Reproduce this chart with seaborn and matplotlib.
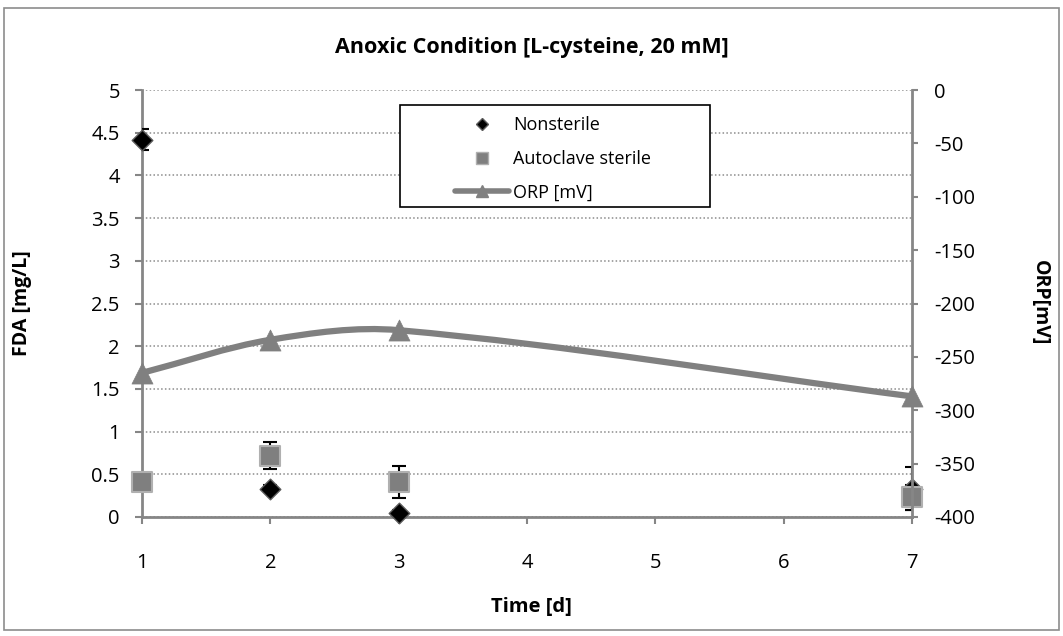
import numpy as np
import pandas as pd
import matplotlib
matplotlib.use("Agg")
import matplotlib.pyplot as plt
from matplotlib.path import Path
from matplotlib.patches import PathPatch, Rectangle
from matplotlib.lines import Line2D
import seaborn as sns

# ---- data ----
days = [1, 2, 3, 7]
nonsterile = [4.42, 0.33, 0.05, 0.33]
nonsterile_err = [0.12, 0.04, 0.03, 0.25]
autoclave = [0.41, 0.72, 0.41, 0.23]
autoclave_err = [0.0, 0.16, 0.19, 0.15]
orp = [-265, -234, -225, -287]

sns.set_theme(style="white")
plt.rcParams["font.family"] = ["Open Sans", "DejaVu Sans"]
plt.rcParams["axes.unicode_minus"] = False
plt.rcParams["text.color"] = "black"
plt.rcParams["xtick.labelcolor"] = "black"
plt.rcParams["ytick.labelcolor"] = "black"

fig = plt.figure(figsize=(10.63, 6.36), dpi=100)
fig.patch.set_facecolor("white")
fig.patches.append(Rectangle((4 / 1063, 6 / 636), 1 - 8 / 1063, 1 - 14 / 636,
                             transform=fig.transFigure, fill=False,
                             edgecolor="#8c8c8c", linewidth=1.2))

ax = fig.add_axes([142 / 1063, 1 - 517 / 636, 770 / 1063, 427 / 636])
ax2 = ax.twinx()

axis_grey = "#868686"
ax.set_xlim(1, 7)
ax.set_ylim(0, 5)
ax2.set_ylim(-400, 0)
ax.set_yticks(np.arange(0, 5.01, 0.5))
ax.set_yticklabels(["0", "0.5", "1", "1.5", "2", "2.5", "3", "3.5", "4", "4.5", "5"])
ax.set_xticks(range(1, 8))
ax2.set_yticks(np.arange(-400, 1, 50))

for a in (ax, ax2):
    for s in a.spines.values():
        s.set_visible(False)
ax.spines["left"].set_visible(True)
ax.spines["bottom"].set_visible(True)
ax2.spines["right"].set_visible(True)
for s in (ax.spines["left"], ax.spines["bottom"], ax2.spines["right"]):
    s.set_color(axis_grey)
    s.set_linewidth(2)

ax.yaxis.grid(True, linestyle=(0, (1, 1.5)), color="#8c8c8c", linewidth=1.1)
ax.set_axisbelow(True)
ax.tick_params(axis="y", direction="out", length=5, width=1.5, color=axis_grey,
               labelsize=14.5, pad=11, left=True, labelcolor="black")
ax.tick_params(axis="x", direction="out", length=5, width=1.5, color=axis_grey,
               labelsize=14.5, pad=21, bottom=True, labelcolor="black")
ax2.tick_params(axis="y", direction="out", length=4, width=1.5, color=axis_grey,
                labelsize=14.5, pad=12, right=True, labelcolor="black")

# error bars
ax.errorbar(days, nonsterile, yerr=nonsterile_err, fmt="none", ecolor="black",
            elinewidth=1.5, capsize=5, capthick=1.5, zorder=3)
ax.errorbar(days, autoclave, yerr=autoclave_err, fmt="none", ecolor="black",
            elinewidth=1.5, capsize=5, capthick=1.5, zorder=3)

df = pd.DataFrame({"day": days, "nonsterile": nonsterile,
                   "autoclave": autoclave, "orp": orp})
sns.scatterplot(data=df, x="day", y="nonsterile", ax=ax, marker="D", s=110,
                color="black", edgecolor="#5a5a5a", linewidth=1, zorder=4,
                clip_on=False)
sns.scatterplot(data=df, x="day", y="autoclave", ax=ax, marker="s", s=200,
                color="#7f7f7f", edgecolor="#b0b0b0", linewidth=1.5, zorder=5,
                clip_on=False)

# smoothed ORP curve (cubic Bezier segments through the measured points)
sx, sy = 770 / 6, 427 / 400
P = np.array([[d * sx, v * sy] for d, v in zip(days, orp)])
n = len(P)
T = []
for i in range(n):
    if i == 0:
        t = P[1] - P[0]
    elif i == n - 1:
        t = P[-1] - P[-2]
    else:
        t = P[i + 1] - P[i - 1]
    T.append(t / np.linalg.norm(t))
verts = [P[0]]
codes = [Path.MOVETO]
for i in range(n - 1):
    d = np.linalg.norm(P[i + 1] - P[i])
    c1 = P[i] + T[i] * d / 3
    c2 = P[i + 1] - T[i + 1] * d / 3
    verts += [c1, c2, P[i + 1]]
    codes += [Path.CURVE4] * 3
verts = np.array(verts) / np.array([sx, sy])
ax2.add_patch(PathPatch(Path(verts, codes), facecolor="none",
                        edgecolor="#808080", linewidth=4.5, zorder=2,
                        capstyle="round"))
sns.scatterplot(data=df, x="day", y="orp", ax=ax2, marker="^", s=230,
                color="#808080", edgecolor="#808080", linewidth=0.5, zorder=6,
                clip_on=False)
ax2.set_ylabel("")
ax.set_xlabel("")
ax.set_ylabel("")

fig.text(0.5, 1 - 47 / 636, "Anoxic Condition [L-cysteine, 20 mM]",
         ha="center", va="center", fontsize=15.5, fontweight="bold",
         color="black")
fig.text(0.5, 1 - 607 / 636, "Time [d]", ha="center", va="center",
         fontsize=14.5, fontweight="bold", color="black")
fig.text(22 / 1063, 1 - 303 / 636, "FDA [mg/L]", ha="center", va="center",
         rotation=90, fontsize=14, fontweight="bold", color="black")
fig.text(1040 / 1063, 1 - 303 / 636, "ORP[mV]", ha="center", va="center",
         rotation=-90, fontsize=14, fontweight="bold", color="black")

# legend: entries without frame, framed by a separate box behind them
handles = [
    Line2D([], [], linestyle="none", marker="D", markersize=6.5,
           markerfacecolor="black", markeredgecolor="#5a5a5a"),
    Line2D([], [], linestyle="none", marker="s", markersize=8,
           markerfacecolor="#7f7f7f", markeredgecolor="#b0b0b0"),
    Line2D([], [], color="#808080", linewidth=4, marker="^", markersize=9,
           markerfacecolor="#808080", markeredgecolor="#808080"),
]
leg = ax2.legend(handles, ["Nonsterile", "Autoclave sterile", "ORP [mV]"],
                 loc="center",
                 bbox_to_anchor=(553 / 1063, 1 - 159 / 636),
                 bbox_transform=fig.transFigure, frameon=False,
                 fontsize=13, handlelength=3.0, handletextpad=0.25,
                 borderpad=0, labelspacing=0.86, borderaxespad=0,
                 labelcolor="black")
leg.set_zorder(10)
ax2.add_patch(Rectangle((400 / 1063, 1 - 207 / 636), 310 / 1063, 102 / 636,
                        transform=fig.transFigure, facecolor="white",
                        edgecolor="black", linewidth=1.2, zorder=9,
                        clip_on=False))

fig.savefig("out.png", dpi=100, facecolor="white")
